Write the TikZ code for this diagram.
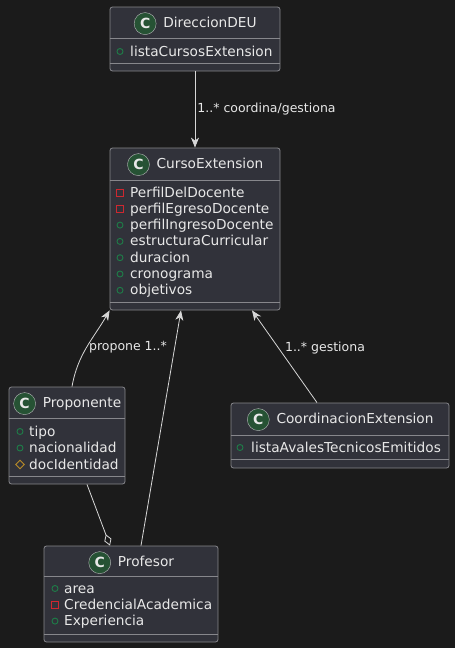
\documentclass[tikz,border=0pt]{standalone}
\usepackage{fontspec}
\setmainfont{DejaVu Sans}
\usetikzlibrary{arrows.meta,positioning,shapes.geometric}

\definecolor{bgc}{RGB}{27,27,27}
\definecolor{boxfill}{RGB}{49,50,58}
\definecolor{boxline}{RGB}{135,135,140}
\definecolor{txt}{RGB}{232,232,232}
\definecolor{linec}{RGB}{215,215,215}
\definecolor{icongreen}{RGB}{38,82,52}
\definecolor{pubc}{RGB}{30,125,72}
\definecolor{privc}{RGB}{205,40,48}
\definecolor{protc}{RGB}{185,140,40}

\begin{document}
\begin{tikzpicture}[x=1pt, y=1pt, color=linec]
    \tikzset{
      classbox/.style={draw=boxline, fill=boxfill, rounded corners=2.5pt, line width=0.8pt},
      sep/.style={draw=boxline, line width=0.8pt},
      title/.style={color=txt, inner sep=0pt, anchor=base, font=\fontsize{13.7}{16}\selectfont},
      classicon/.style={circle, draw=boxline!60!white, fill=icongreen, minimum size=22pt, inner sep=0pt, text=txt, font=\fontsize{14}{16}\selectfont\bfseries},
      attr/.style={color=txt, inner sep=0pt, anchor=base west, font=\fontsize{13.7}{16}\selectfont},
      pub/.style={circle, draw=pubc, minimum size=6pt, inner sep=0pt, line width=0.9pt},
      priv/.style={rectangle, draw=privc, minimum size=7pt, inner sep=0pt, line width=0.9pt},
      prot/.style={diamond, draw=protc, minimum size=9pt, inner sep=0pt, line width=0.9pt},
      assoc/.style={draw=linec, line width=0.8pt, -{Stealth[length=10pt, width=8pt, inset=3pt]}},
      aggr/.style={draw=linec, line width=0.8pt, -{Diamond[length=12pt, width=7.5pt, fill=bgc]}},
      rolelabel/.style={color=txt, inner sep=2pt, font=\fontsize{12.5}{14}\selectfont}
    }
    \useasboundingbox[fill=bgc] (0,0) rectangle (455,-648);

    % classes
    \draw (195,-39) node (dir) [classbox, minimum width=170pt, minimum height=64pt] {};
    \draw (195,-229) node (cur) [classbox, minimum width=170pt, minimum height=162pt] {};
    \draw (67,-435.5) node (pro) [classbox, minimum width=116pt, minimum height=97pt] {};
    \draw (131,-594) node (prof) [classbox, minimum width=174pt, minimum height=96pt] {};
    \draw (340,-435.5) node (coo) [classbox, minimum width=218pt, minimum height=65pt] {};

    \foreach \cls/\hd/\ft in {dir/32/8, cur/33/8, pro/32/8, prof/31/8, coo/33/9}{
      \draw[sep] ([yshift=-\hd pt]\cls.north west) -- ([yshift=-\hd pt]\cls.north east);
      \draw[sep] ([yshift=\ft pt]\cls.south west) -- ([yshift=\ft pt]\cls.south east);
    }
    \foreach \cls/\name in {dir/DireccionDEU, cur/CursoExtension, pro/Proponente, prof/Profesor, coo/CoordinacionExtension}{
      \node (\cls-t) [title] at ([xshift=15pt, yshift=-21pt]\cls.north) {\name};
      \node (\cls-c) [classicon] at ([xshift=-18pt, yshift=4pt]\cls-t.base west) {C};
    }

    % attributes
    \node (dir-a1) [attr] at (130,-56) {listaCursosExtension};
    \node (dir-v1) [pub] at (120,-51.5) {};
    \foreach \vis/\name [count=\i] in {priv/PerfilDelDocente, priv/perfilEgresoDocente, pub/perfilIngresoDocente, pub/estructuraCurricular, pub/duracion, pub/cronograma, pub/objetivos}{
      \node (cur-a\i) [attr] at (130,{-197-16.3*(\i-1)}) {\name};
      \node (cur-v\i) [\vis] at (120,{-192.5-16.3*(\i-1)}) {};
    }
    \foreach \vis/\name [count=\i] in {pub/tipo, pub/nacionalidad, prot/docIdentidad}{
      \node (pro-a\i) [attr] at (29,{-436-16.5*(\i-1)}) {\name};
      \node (pro-v\i) [\vis] at (20,{-431.5-16.5*(\i-1)}) {};
    }
    \foreach \vis/\name [count=\i] in {pub/area, priv/CredencialAcademica, pub/Experiencia}{
      \node (prof-a\i) [attr] at (64,{-593-16.3*(\i-1)}) {\name};
      \node (prof-v\i) [\vis] at (55,{-588.5-16.3*(\i-1)}) {};
    }
    \node (coo-a1) [attr] at (251,-452) {listaAvalesTecnicosEmitidos};
    \node (coo-v1) [pub] at (240,-447.5) {};

    % relations
    \draw[assoc] (dir) -- node (l1) [rolelabel, right] {1..* coordina/gestiona} (cur);
    \draw[assoc] ([xshift=5pt]pro.north) to[out=80, in=240] node (l2) [rolelabel, right, pos=0.5] {propone 1..*} (cur.south west);
    \draw[assoc] ([xshift=10pt]prof.north) -- ([xshift=-14pt]cur.south);
    \draw[assoc] ([xshift=-23pt]coo.north) -- node (l3) [rolelabel, right, pos=0.59, xshift=4pt] {1..* gestiona} ([xshift=57pt]cur.south);
    \draw[aggr] ([xshift=20pt]pro.south) -- ([xshift=-21pt]prof.north);

  \end{tikzpicture}
\end{document}
